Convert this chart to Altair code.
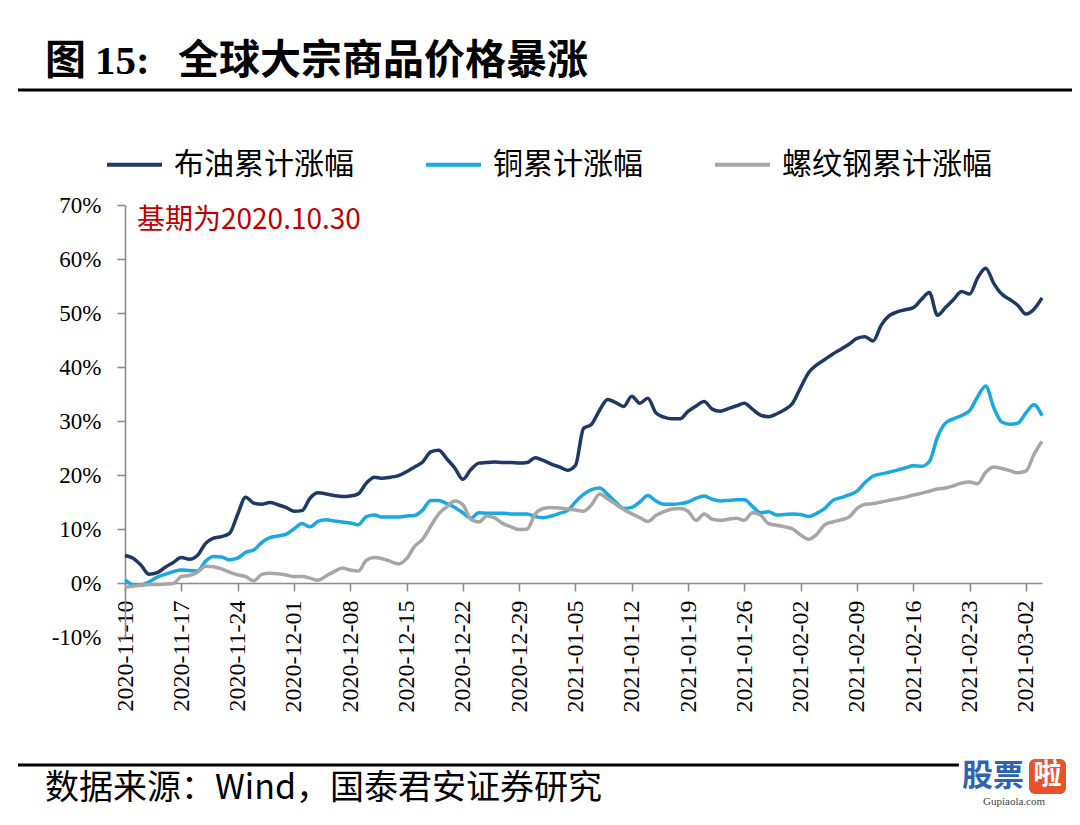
import altair as alt
import pandas as pd

START = "2020-11-10"
SERIES = ["布油累计涨幅", "铜累计涨幅", "螺纹钢累计涨幅"]
COLORS = ["#1F3864", "#1AA8E2", "#A6A6A6"]

brent = [5.1, 4.6, 3.3, 1.6, 1.9, 2.9, 3.8, 4.7, 4.4, 5.1,
         7.3, 8.3, 8.6, 9.2, 12.7, 15.9, 14.8, 14.6, 14.9, 14.5,
         14.0, 13.3, 13.4, 15.7, 16.7, 16.5, 16.2, 16.0, 16.1, 16.5,
         18.5, 19.6, 19.4, 19.6, 19.9, 20.6, 21.5, 22.4, 24.3, 24.6,
         23.0, 21.3, 19.2, 21.0, 22.2, 22.3, 22.4, 22.3, 22.3, 22.2,
         22.3, 23.2, 22.7, 22.0, 21.5, 20.9, 21.8, 28.6, 29.4, 32.0,
         34.0, 33.4, 32.7, 34.6, 33.3, 34.2, 31.5, 30.7, 30.4, 30.4,
         31.8, 32.8, 33.6, 32.2, 31.8, 32.3, 32.8, 33.3, 32.2, 31.1,
         30.8, 31.3, 32.1, 33.3, 36.2, 39.0, 40.4, 41.4, 42.4, 43.3,
         44.2, 45.3, 45.6, 44.8, 47.7, 49.5, 50.2, 50.6, 51.0, 52.5,
         53.8, 49.6, 51.0, 52.5, 54.0, 53.5, 56.5, 58.3, 55.5, 53.5,
         52.5, 51.4, 49.8, 50.7, 52.8]

copper = [0.6, -0.3, -0.4, 0.2, 1.1, 1.6, 2.1, 2.4, 2.3, 2.2,
          4.0, 4.9, 4.8, 4.3, 4.6, 5.7, 6.1, 7.5, 8.4, 8.7,
          9.0, 10.0, 11.0, 10.4, 11.4, 11.7, 11.5, 11.3, 11.1, 10.8,
          12.3, 12.6, 12.2, 12.2, 12.2, 12.4, 12.5, 13.5, 15.3, 15.3,
          14.7, 14.0, 13.0, 12.0, 13.0, 12.9, 12.9, 12.9, 12.8, 12.8,
          12.8, 12.3, 12.1, 12.4, 12.9, 13.4, 15.0, 16.4, 17.3, 17.6,
          16.4, 15.0, 13.8, 14.0, 15.0, 16.2, 15.2, 14.6, 14.6, 14.7,
          15.0, 15.7, 16.1, 15.5, 15.2, 15.3, 15.4, 15.4, 14.2, 13.0,
          13.2, 12.6, 12.7, 12.8, 12.7, 12.3, 12.9, 13.8, 15.3, 15.8,
          16.3, 17.0, 18.6, 19.8, 20.2, 20.5, 20.9, 21.3, 21.7, 21.6,
          22.5, 27.0, 29.6, 30.4, 31.0, 31.9, 34.5, 36.5, 32.5, 29.8,
          29.4, 29.6, 31.5, 33.0, 31.0]

rebar = [-0.8, -0.6, -0.4, -0.3, -0.3, -0.2, -0.1, 1.2, 1.4, 2.0,
         3.1, 3.0, 2.6, 2.0, 1.5, 1.2, 0.4, 1.6, 1.8, 1.7,
         1.5, 1.2, 1.2, 0.9, 0.5, 1.3, 2.1, 2.8, 2.4, 2.2,
         4.2, 4.7, 4.5, 4.0, 3.5, 4.5, 6.8, 8.1, 10.5, 12.8,
         14.1, 15.2, 14.5, 11.8, 11.3, 12.4, 12.0, 11.0, 10.4, 9.9,
         10.0, 12.8, 13.8, 14.0, 13.9, 13.7, 13.5, 13.3, 14.5, 16.5,
         15.6, 14.6, 13.6, 12.8, 12.1, 11.4, 12.5, 13.2, 13.7, 13.8,
         13.3, 11.6, 12.8, 11.8, 11.6, 11.8, 12.0, 11.6, 13.0, 12.6,
         11.0, 10.7, 10.4, 10.0, 8.9, 8.1, 9.0, 10.8, 11.3, 11.7,
         12.2, 13.8, 14.6, 14.7, 15.0, 15.3, 15.6, 15.9, 16.3, 16.6,
         17.0, 17.4, 17.6, 18.0, 18.5, 18.7, 18.4, 20.5, 21.5, 21.2,
         20.8, 20.4, 20.7, 23.8, 26.2]

TICK_DATES = ["2020-11-10", "2020-11-17", "2020-11-24", "2020-12-01", "2020-12-08",
              "2020-12-15", "2020-12-22", "2020-12-29", "2021-01-05", "2021-01-12",
              "2021-01-19", "2021-01-26", "2021-02-02", "2021-02-09", "2021-02-16",
              "2021-02-23", "2021-03-02"]
Y_TICKS = [-10, 0, 10, 20, 30, 40, 50, 60, 70]

TITLE_A = "图"
TITLE_B = "15:"
TITLE_C = "全球大宗商品价格暴涨"
NOTE = "基期为2020.10.30"
SOURCE = "数据来源：Wind，国泰君安证券研究"

dates = pd.date_range(START, periods=len(brent), freq="D").strftime("%Y-%m-%d").tolist()
rows = []
for name, vals in zip(SERIES, [brent, copper, rebar]):
    for d, v in zip(dates, vals):
        rows.append({"date": d, "series": name, "value": v})
df = pd.DataFrame(rows)


def dt(s):
    y, m, d = (int(p) for p in s.split("-"))
    return alt.DateTime(year=y, month=m, date=d, utc=True)


lines = alt.Chart(df).mark_line(strokeWidth=3.5, interpolate="monotone").encode(
    x=alt.X("date:T",
            scale=alt.Scale(type="utc", domain=[dt("2020-11-10"), dt("2021-03-04")]),
            axis=alt.Axis(values=[dt(s) for s in TICK_DATES],
                          labelExpr="utcFormat(datum.value, '%Y-%m-%d')",
                          labelAngle=270, offset=-54,
                          labelFont="Liberation Serif", labelFontSize=24,
                          labelColor="#000000", labelPadding=9,
                          domainColor="#8C8C8C", domainWidth=1.6,
                          tickColor="#8C8C8C", tickWidth=1.6, tickSize=8,
                          grid=False, title=None, labelOverlap=False)),
    y=alt.Y("value:Q",
            scale=alt.Scale(domain=[-10, 70], nice=False, zero=False),
            axis=alt.Axis(values=Y_TICKS, labelExpr="datum.value + '%'",
                          labelFont="Liberation Serif", labelFontSize=23,
                          labelColor="#000000", labelPadding=16,
                          domainColor="#8C8C8C", domainWidth=1.6,
                          tickColor="#8C8C8C", tickWidth=1.6, tickSize=8,
                          grid=False, title=None)),
    color=alt.Color("series:N", sort=SERIES,
                    scale=alt.Scale(domain=SERIES, range=COLORS),
                    legend=alt.Legend(orient="none", legendX=-20, legendY=-70,
                                      direction="horizontal", title=None,
                                      symbolType="stroke", symbolSize=3025,
                                      symbolStrokeWidth=4, labelFont="Noto Sans CJK SC",
                                      labelFontSize=30, labelColor="#000000",
                                      labelOffset=10, columnPadding=64,
                                      labelLimit=400)),
)

one = pd.DataFrame({"k": [0]})


def label(text, x, y, size, font="Noto Sans CJK SC", weight="normal", color="#000000", align="left"):
    return alt.Chart(pd.DataFrame({"t": [text]})).mark_text(
        font=font, fontSize=size, fontWeight=weight, color=color,
        align=align, baseline="middle").encode(
        text="t:N", x=alt.value(x), y=alt.value(y))


title_a = label(TITLE_A, -80, -143, 41, weight="bold")
title_b = label(TITLE_B, -30, -143, 41, font="Liberation Serif", weight="bold")
title_c = label(TITLE_C, 53, -143, 41, weight="bold")
note = label(NOTE, 12, 16, 28, color="#C00000")
source = label(SOURCE, -80, 584, 34)

title_rule = alt.Chart(one).mark_rule(color="#000000", strokeWidth=3).encode(
    x=alt.value(-107), x2=alt.value(955), y=alt.value(-115))
source_rule = alt.Chart(one).mark_rule(color="#000000", strokeWidth=3).encode(
    x=alt.value(-107), x2=alt.value(834), y=alt.value(560))

wm_text = label("股票", 837, 572, 31, weight="bold", color="#2E63B0")
wm_box = alt.Chart(one).mark_rect(color="#E8532A", cornerRadius=6).encode(
    x=alt.value(904), x2=alt.value(941), y=alt.value(554), y2=alt.value(589))
wm_la = label("啦", 922.5, 571, 28, weight="bold", color="#FFFFFF", align="center")
wm_site = label("Gupiaola.com", 889, 597, 11, font="Liberation Serif", color="#444444", align="center")

chart = alt.layer(
    lines, title_rule, source_rule, title_a, title_b, title_c, note, source,
    wm_text, wm_box, wm_la, wm_site
).properties(
    width=917, height=432,
    padding={"left": 117, "top": 197, "right": 30, "bottom": 171},
    autosize=alt.AutoSizeParams(type="none"),
    background="#FFFFFF",
).configure_view(stroke=None)

chart.save("out.html", embed_options={"renderer": "svg", "actions": False})
